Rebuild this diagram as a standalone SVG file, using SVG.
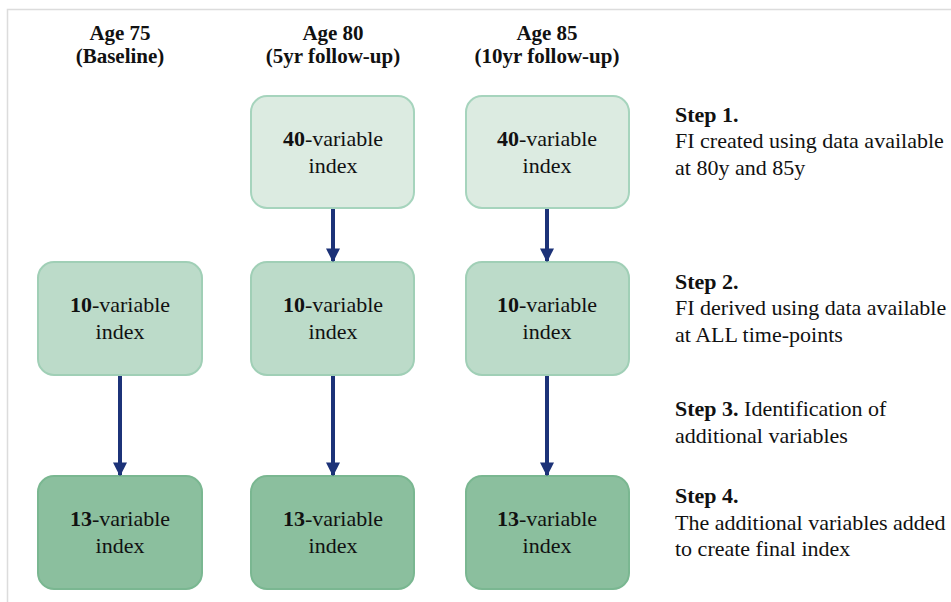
<svg xmlns="http://www.w3.org/2000/svg" width="951" height="602" viewBox="0 0 951 602">
<defs>
<style>
text{font-family:"Liberation Serif","Times New Roman",serif;font-size:22px;fill:#111;}
.h{font-weight:bold;text-anchor:middle;font-size:21px;}
.c{text-anchor:middle;}
.b{font-weight:bold;}
.r1{fill:#dcebe1;stroke:#a6d4bd;stroke-width:2;}
.r2{fill:#bcdbc9;stroke:#a0cfb6;stroke-width:2;}
.r3{fill:#8bbf9e;stroke:#7ab791;stroke-width:2;}
.con{stroke:#1c3278;stroke-width:4;fill:none;}
</style>
<marker id="ah" viewBox="0 0 10 10" refX="9" refY="5" markerWidth="3.5" markerHeight="3.5" orient="auto" markerUnits="strokeWidth">
<path d="M0,0 L10,5 L0,10 Z" fill="#1c3278"/>
</marker>
</defs>
<rect width="951" height="602" fill="#fff"/>
<path d="M7.5,602 V9.5 H951" fill="none" stroke="#dcdcdc" stroke-width="1.5"/>
<g id="headers">
<text class="h" x="120" y="40">Age 75</text>
<text class="h" x="120" y="63">(Baseline)</text>
<text class="h" x="333" y="40">Age 80</text>
<text class="h" x="333" y="63">(5yr follow-up)</text>
<text class="h" x="547" y="40">Age 85</text>
<text class="h" x="547" y="63">(10yr follow-up)</text>
</g>
<g id="n40a"><rect class="r1" x="251" y="96" width="163" height="112" rx="16"/><text class="c" x="333" y="146"><tspan class="b">40</tspan>-variable</text><text class="c" x="333" y="173">index</text></g>
<g id="n40b"><rect class="r1" x="466" y="96" width="163" height="112" rx="16"/><text class="c" x="547" y="146"><tspan class="b">40</tspan>-variable</text><text class="c" x="547" y="173">index</text></g>
<g id="n10a"><rect class="r2" x="38" y="262" width="164" height="113" rx="16"/><text class="c" x="120" y="312"><tspan class="b">10</tspan>-variable</text><text class="c" x="120" y="339">index</text></g>
<g id="n10b"><rect class="r2" x="251" y="262" width="163" height="113" rx="16"/><text class="c" x="333" y="312"><tspan class="b">10</tspan>-variable</text><text class="c" x="333" y="339">index</text></g>
<g id="n10c"><rect class="r2" x="466" y="262" width="163" height="113" rx="16"/><text class="c" x="547" y="312"><tspan class="b">10</tspan>-variable</text><text class="c" x="547" y="339">index</text></g>
<g id="n13a"><rect class="r3" x="38" y="476" width="164" height="113" rx="16"/><text class="c" x="120" y="526"><tspan class="b">13</tspan>-variable</text><text class="c" x="120" y="553">index</text></g>
<g id="n13b"><rect class="r3" x="251" y="476" width="163" height="113" rx="16"/><text class="c" x="333" y="526"><tspan class="b">13</tspan>-variable</text><text class="c" x="333" y="553">index</text></g>
<g id="n13c"><rect class="r3" x="466" y="476" width="163" height="113" rx="16"/><text class="c" x="547" y="526"><tspan class="b">13</tspan>-variable</text><text class="c" x="547" y="553">index</text></g>
<g id="connectors">
<line class="con" x1="333" y1="209" x2="333" y2="261" marker-end="url(#ah)"/>
<line class="con" x1="547" y1="209" x2="547" y2="261" marker-end="url(#ah)"/>
<line class="con" x1="120" y1="376" x2="120" y2="475" marker-end="url(#ah)"/>
<line class="con" x1="333" y1="376" x2="333" y2="475" marker-end="url(#ah)"/>
<line class="con" x1="547" y1="376" x2="547" y2="475" marker-end="url(#ah)"/>
</g>
<g id="steps">
<text x="675" y="122" class="b">Step 1.</text>
<text x="675" y="148">FI created using data available</text>
<text x="675" y="175">at 80y and 85y</text>
<text x="675" y="289" class="b">Step 2.</text>
<text x="675" y="315">FI derived using data available</text>
<text x="675" y="342">at ALL time-points</text>
<text x="675" y="416"><tspan class="b">Step 3.</tspan> Identification of</text>
<text x="675" y="443">additional variables</text>
<text x="675" y="503" class="b">Step 4.</text>
<text x="675" y="530">The additional variables added</text>
<text x="675" y="556">to create final index</text>
</g>
</svg>
